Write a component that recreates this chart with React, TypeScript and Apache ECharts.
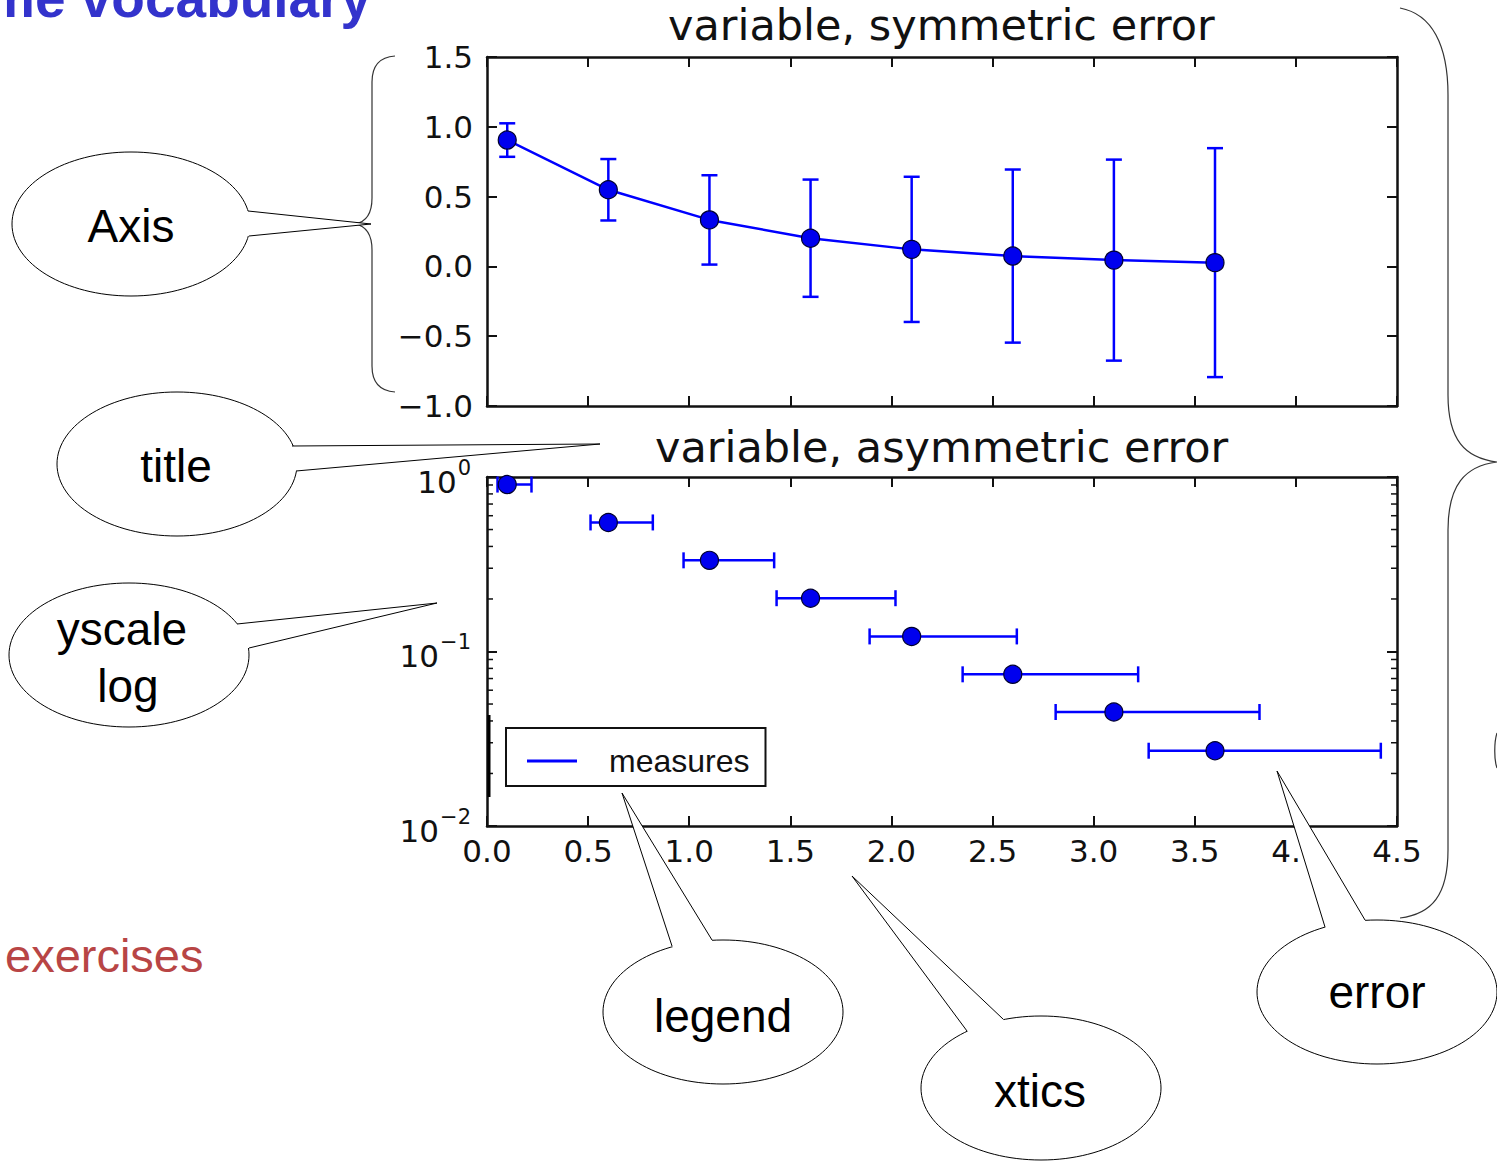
import React, { useEffect, useRef } from "react";
import * as echarts from "echarts";

// ---- data ----
const xValues = [0.1, 0.6, 1.1, 1.6, 2.1, 2.6, 3.1, 3.6];
const yValues = [0.905, 0.549, 0.333, 0.202, 0.122, 0.074, 0.045, 0.027];
const symErrors = [0.12, 0.22, 0.32, 0.42, 0.52, 0.62, 0.72, 0.82];
const lowerErrors = [0.048, 0.088, 0.128, 0.168, 0.208, 0.248, 0.288, 0.328];
const upperErrors = [0.12, 0.22, 0.32, 0.42, 0.52, 0.62, 0.72, 0.82];
const logMinorTicks = [0.02, 0.03, 0.04, 0.05, 0.06, 0.07, 0.08, 0.09, 0.2, 0.3, 0.4, 0.5, 0.6, 0.7, 0.8, 0.9];
const topTitle = "variable, symmetric error";
const bottomTitle = "variable, asymmetric error";
const legendName = "measures";

const DV = "'DejaVu Sans', sans-serif";
const AR = "'Liberation Sans', Arial, sans-serif";
const BLUE = "#0000ff";
const INK = "#111";

echarts.graphic.registerShape(
  "braceLeft",
  echarts.graphic.extendPath(
    "M395,56 C380,57 372,66 372,82 L372,198 C372,214 366,222 355,224 C366,226 372,234 372,250 L372,366 C372,382 380,391 395,392",
    {}
  )
);
echarts.graphic.registerShape(
  "braceRight",
  echarts.graphic.extendPath(
    "M1400,8 C1432,14 1448,45 1448,95 L1448,395 C1448,440 1465,458 1497,462 C1465,466 1448,485 1448,530 L1448,850 C1448,895 1432,914 1400,918",
    {}
  )
);
echarts.graphic.registerShape(
  "parenCut",
  echarts.graphic.extendPath("M1497,733 C1494,742 1494,760 1497,768", {})
);

const callouts = [
  { lines: ["Axis"], cx: 131, cy: 224, rx: 119, ry: 72, base: [[248, 211], [249, 236]], tip: [371, 224], tx: [131], ty: [226] },
  { lines: ["title"], cx: 177, cy: 464, rx: 120, ry: 72, base: [[292, 446], [296, 471]], tip: [600, 444], tx: [176], ty: [466] },
  { lines: ["yscale", "log"], cx: 129, cy: 655, rx: 120, ry: 72, base: [[237, 624], [249, 648]], tip: [437, 603], tx: [122, 128], ty: [629, 686] },
  { lines: ["legend"], cx: 723, cy: 1012, rx: 120, ry: 72, base: [[672, 946], [712, 940]], tip: [622, 793], tx: [723], ty: [1016] },
  { lines: ["xtics"], cx: 1041, cy: 1088, rx: 120, ry: 72, base: [[967, 1031], [1003, 1019]], tip: [852, 876], tx: [1040], ty: [1091] },
  { lines: ["error"], cx: 1377, cy: 992, rx: 120, ry: 72, base: [[1325, 927], [1365, 920]], tip: [1277, 771], tx: [1377], ty: [992] },
];

function buildOption() {
  const axisLine = { show: true, onZero: false, lineStyle: { color: INK, width: 2.5 } };
  const axisTick = { show: true, inside: true, length: 10, lineStyle: { color: INK, width: 2 } };
  const noSplit = { show: false };
  const xBase = { type: "value", min: 0, max: 4.5, interval: 0.5, axisLine, axisTick, splitLine: noSplit };
  const supLabel = (v: number) => {
    const e = Math.round(Math.log10(v));
    return "{a|10}{s|" + String(e).replace("-", "\u2212") + "}";
  };

  const graphics: any[] = [];
  graphics.push({
    type: "text", x: -14, y: -2, z: 90,
    style: { text: "me vocabulary", fontSize: 55, fontWeight: "bold", fontFamily: AR, fill: "#3333cc", verticalAlign: "middle", textVerticalAlign: "middle" },
  });
  graphics.push({
    type: "text", x: 5, y: 955, z: 90,
    style: { text: "exercises", fontSize: 47, fontFamily: AR, fill: "#b84545", verticalAlign: "middle", textVerticalAlign: "middle" },
  });
  graphics.push({ type: "braceLeft", x: 0, y: 0, z: 95, style: { fill: null, stroke: "#333", lineWidth: 1.2 } });
  graphics.push({ type: "braceRight", x: 0, y: 0, z: 95, style: { fill: null, stroke: "#333", lineWidth: 1.2 } });
  graphics.push({ type: "parenCut", x: 0, y: 0, z: 95, style: { fill: null, stroke: "#333", lineWidth: 1.2 } });
  graphics.push({ type: "line", z: 50, shape: { x1: 489, y1: 715, x2: 489, y2: 797 }, style: { stroke: "#000", lineWidth: 3 } });
  callouts.forEach((c) => {
    graphics.push({ type: "ellipse", z: 100, shape: { cx: c.cx, cy: c.cy, rx: c.rx, ry: c.ry }, style: { fill: "#fff", stroke: "#000", lineWidth: 1 } });
    graphics.push({ type: "polygon", z: 101, shape: { points: [c.base[0], c.tip, c.base[1], [c.cx, c.cy]] }, style: { fill: "#fff", stroke: null } });
    graphics.push({ type: "polyline", z: 102, shape: { points: [c.base[0], c.tip, c.base[1]] }, style: { fill: null, stroke: "#000", lineWidth: 1 } });
    c.lines.forEach((t, i) => {
      graphics.push({
        type: "text", x: c.tx[i], y: c.ty[i], z: 103,
        style: { text: t, fontSize: 46, fontFamily: AR, fill: "#000", align: "center", verticalAlign: "middle", textAlign: "center", textVerticalAlign: "middle" },
      });
    });
  });

  return {
    animation: false,
    backgroundColor: "#fff",
    title: [
      { text: topTitle, left: 668, top: 3, padding: 0, textStyle: { fontSize: 43, fontWeight: "normal", fontFamily: DV, color: INK } },
      { text: bottomTitle, left: 655, top: 425, padding: 0, textStyle: { fontSize: 43, fontWeight: "normal", fontFamily: DV, color: INK } },
    ],
    legend: {
      data: [{ name: legendName, icon: "rect", itemStyle: { color: BLUE } }],
      left: 506, top: 728, itemWidth: 50, itemHeight: 3,
      padding: [17, 16, 9, 21],
      borderColor: INK, borderWidth: 2, backgroundColor: "#fff",
      selectedMode: false,
      textStyle: { fontSize: 32, fontFamily: AR, color: INK, padding: [0, 0, 0, 27] },
    },
    grid: [
      { left: 487, top: 57, width: 910, height: 349 },
      { left: 487, top: 477, width: 910, height: 349 },
    ],
    xAxis: [
      { ...xBase, gridIndex: 0, position: "bottom", axisLabel: { show: false } },
      { ...xBase, gridIndex: 0, position: "top", axisLabel: { show: false } },
      {
        ...xBase, gridIndex: 1, position: "bottom",
        axisLabel: { show: true, fontSize: 31, fontFamily: DV, color: INK, margin: 9, formatter: (v: number) => v.toFixed(1) },
      },
      { ...xBase, gridIndex: 1, position: "top", axisLabel: { show: false } },
    ],
    yAxis: [
      {
        type: "value", gridIndex: 0, position: "left", min: -1, max: 1.5, interval: 0.5, axisLine, axisTick, splitLine: noSplit,
        axisLabel: { fontSize: 31, fontFamily: DV, color: INK, margin: 14, formatter: (v: number) => v.toFixed(1).replace("-", "\u2212") },
      },
      { type: "value", gridIndex: 0, position: "right", min: -1, max: 1.5, interval: 0.5, axisLine, axisTick, splitLine: noSplit, axisLabel: { show: false } },
      {
        type: "log", logBase: 10, gridIndex: 1, position: "left", min: 0.01, max: 1, axisLine, axisTick, splitLine: noSplit,
        axisLabel: {
          margin: 16, formatter: supLabel,
          rich: {
            a: { fontSize: 31, fontFamily: DV, color: INK, verticalAlign: "bottom" },
            s: { fontSize: 21, fontFamily: DV, color: INK, verticalAlign: "bottom", padding: [0, 0, 19, 1] },
          },
        },
      },
      { type: "log", logBase: 10, gridIndex: 1, position: "right", min: 0.01, max: 1, axisLine, axisTick, splitLine: noSplit, axisLabel: { show: false } },
    ],
    graphic: graphics,
    series: [
      {
        type: "custom", name: "symErr", xAxisIndex: 0, yAxisIndex: 0, z: 2,
        data: xValues.map((x, i) => [x, yValues[i], symErrors[i]]),
        encode: { x: 0, y: 1 },
        renderItem: (params: any, api: any) => {
          const x = api.value(0), y = api.value(1), e = api.value(2);
          const lo = api.coord([x, y - e]);
          const hi = api.coord([x, y + e]);
          const cap = 8;
          const st = { stroke: BLUE, lineWidth: 2.5 };
          return {
            type: "group",
            children: [
              { type: "line", shape: { x1: lo[0], y1: lo[1], x2: hi[0], y2: hi[1] }, style: st },
              { type: "line", shape: { x1: lo[0] - cap, y1: lo[1], x2: lo[0] + cap, y2: lo[1] }, style: st },
              { type: "line", shape: { x1: hi[0] - cap, y1: hi[1], x2: hi[0] + cap, y2: hi[1] }, style: st },
            ],
          };
        },
      },
      {
        type: "line", name: "symmetric", xAxisIndex: 0, yAxisIndex: 0, z: 3,
        data: xValues.map((x, i) => [x, yValues[i]]),
        lineStyle: { color: BLUE, width: 2.5 },
        symbol: "circle", symbolSize: 18,
        itemStyle: { color: "#0000ee", borderColor: "#000030", borderWidth: 1.2 },
      },
      {
        type: "custom", name: legendName, xAxisIndex: 2, yAxisIndex: 2, z: 2,
        itemStyle: { color: BLUE },
        data: xValues.map((x, i) => [x, yValues[i], lowerErrors[i], upperErrors[i]]),
        encode: { x: 0, y: 1 },
        renderItem: (params: any, api: any) => {
          const x = api.value(0), y = api.value(1), l = api.value(2), u = api.value(3);
          const a = api.coord([x - l, y]);
          const b = api.coord([x + u, y]);
          const cap = 8;
          const st = { stroke: BLUE, lineWidth: 2.5 };
          return {
            type: "group",
            children: [
              { type: "line", shape: { x1: a[0], y1: a[1], x2: b[0], y2: b[1] }, style: st },
              { type: "line", shape: { x1: a[0], y1: a[1] - cap, x2: a[0], y2: a[1] + cap }, style: st },
              { type: "line", shape: { x1: b[0], y1: b[1] - cap, x2: b[0], y2: b[1] + cap }, style: st },
            ],
          };
        },
      },
      {
        type: "scatter", name: "asymPoints", xAxisIndex: 2, yAxisIndex: 2, z: 3,
        data: xValues.map((x, i) => [x, yValues[i]]),
        symbol: "circle", symbolSize: 18,
        itemStyle: { color: "#0000ee", borderColor: "#000030", borderWidth: 1.2, opacity: 1 },
      },
      {
        type: "custom", name: "minorTicks", xAxisIndex: 2, yAxisIndex: 2, z: 4, silent: true,
        data: logMinorTicks.map((v) => [0, v]),
        encode: { x: 0, y: 1 },
        renderItem: (params: any, api: any) => {
          const v = api.value(1);
          const l = api.coord([0, v]);
          const r = api.coord([4.5, v]);
          const st = { stroke: INK, lineWidth: 1.5 };
          return {
            type: "group",
            children: [
              { type: "line", shape: { x1: l[0], y1: l[1], x2: l[0] + 6, y2: l[1] }, style: st },
              { type: "line", shape: { x1: r[0] - 6, y1: r[1], x2: r[0], y2: r[1] }, style: st },
            ],
          };
        },
      },
    ],
  };
}

export default function App() {
  const ref = useRef<HTMLDivElement>(null);
  useEffect(() => {
    if (!ref.current) return;
    const chart = echarts.init(ref.current, null, { renderer: "svg", width: 1497, height: 1161 });
    chart.setOption(buildOption() as any);
    return () => chart.dispose();
  }, []);
  return (
    <div
      ref={ref}
      style={{ position: "absolute", left: 0, top: 0, width: 1497, height: 1161, background: "#fff" }}
    />
  );
}
